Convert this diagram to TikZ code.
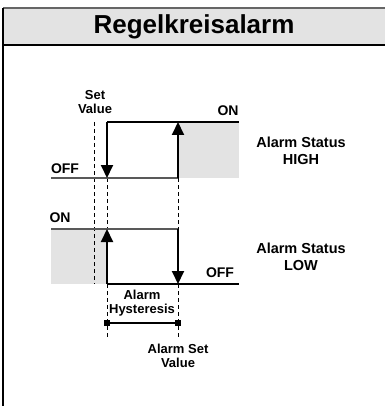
\documentclass[tikz,border=0pt]{standalone}
\usepackage{fontspec}
\setmainfont{Liberation Sans}
\usetikzlibrary{arrows.meta}
\begin{document}
\begin{tikzpicture}[x=1pt,y=-1pt,
  lbl/.style={font=\bfseries\fontsize{13}{14}\selectfont, align=center, inner sep=0pt},
  onoff/.style={font=\bfseries\fontsize{14}{15}\selectfont, inner sep=0pt},
  status/.style={font=\bfseries\fontsize{14.5}{16.5}\selectfont, align=center, inner sep=0pt},
  level/.style={line width=2pt, black},
  graylevel/.style={line width=2pt, black!65},
  arr/.style={line width=2pt, -{Triangle[width=12pt,length=13pt]}},
  guide/.style={line width=0.9pt, dash pattern=on 4pt off 3pt},
  shade/.style={fill=black!11, draw=none}]
\useasboundingbox (0,0) rectangle (385,406);
% header
\fill[black!11] (3,8) rectangle (385,45);
\draw[line width=1.5pt, black!60] (3,8) -- (385,8);
\draw[line width=2pt] (3,45) -- (385,45);
\draw[line width=2pt] (3,8) -- (3,406);
\node[font=\bfseries\fontsize{26}{28}\selectfont, inner sep=0pt] (title) at (194,27) {Regelkreisalarm};
% coordinates
\coordinate (hA) at (51,178);
\coordinate (hB) at (107,178);
\coordinate (hC) at (178,178);
\coordinate (hD) at (107,122);
\coordinate (hE) at (178,122);
\coordinate (hF) at (239,122);
\coordinate (lA) at (51,229);
\coordinate (lB) at (107,229);
\coordinate (lC) at (178,229);
\coordinate (lD) at (107,284);
\coordinate (lE) at (178,284);
\coordinate (lF) at (239,284);
% shading
\path[shade] (hE) rectangle (239,178);
\path[shade] (lA) rectangle (lD);
% dashed guides
\coordinate (sv1) at (94,122);
\coordinate (sv2) at (94,284);
\coordinate (g1) at (107,337);
\coordinate (g2) at (178,337);
\draw[guide] (sv1) -- (sv2);
\draw[guide] (hB) -- (lB);
\draw[guide] (lD) -- (g1);
\draw[guide] (hC) -- (lC);
\draw[guide] (lE) -- (g2);
% high diagram
\draw[graylevel] (hA) -- (hC);
\draw[level] (hD) -- (hF);
\draw[arr] (hD) -- (hB);
\draw[arr] (hC) -- (hE);
% low diagram
\draw[graylevel] (lA) -- (lC);
\draw[level] (lD) -- (lF);
\draw[arr] (lD) -- (lB);
\draw[arr] (lC) -- (lE);
% hysteresis bracket
\coordinate (b1) at (107,323);
\coordinate (b2) at (178,323);
\draw[line width=1.3pt] (b1) -- (b2);
\fill (b1) +(-2.8,-2.8) rectangle +(2.8,2.8);
\fill (b2) +(-2.8,-2.8) rectangle +(2.8,2.8);
% labels
\node[lbl] (setv) at (95,102) {Set\\Value};
\node[onoff] (offh) at (65,169) {OFF};
\node[onoff] (onh) at (228,111) {ON};
\node[onoff] (onl) at (60,218) {ON};
\node[onoff] (offl) at (220,273) {OFF};
\node[lbl] (hyst) at (142,303) {Alarm\\Hysteresis};
\node[lbl] (asv) at (178,356) {Alarm Set\\Value};
\node[status] (sthigh) at (301,151) {Alarm Status\\HIGH};
\node[status] (stlow) at (301,257) {Alarm Status\\LOW};
\end{tikzpicture}
\end{document}
